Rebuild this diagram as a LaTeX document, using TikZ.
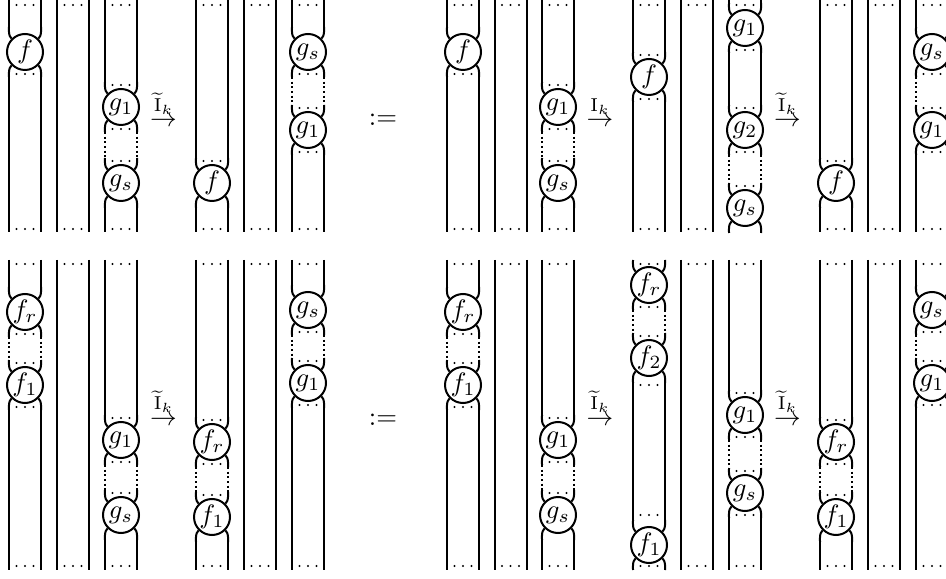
\documentclass[tikz,border=0pt]{standalone}
\usepackage{amsmath}
\tikzset{
  strand/.style={line width=0.75pt},
  dotseg/.style={line width=0.75pt, densely dotted},
  bead/.style={circle, draw, line width=0.75pt, fill=white, minimum size=13.5pt, inner sep=0pt},
}
% bead: name, x, y (px, downward), label
\newcommand\sdBead[4]{%
  \node[bead] (#1) at (#2,-#3) {$#4$};
  \coordinate (#1-ul) at ({#2-16},{25-#3});
  \coordinate (#1-ur) at ({#2+16},{25-#3});
  \coordinate (#1-ll) at ({#2-16},{-25-#3});
  \coordinate (#1-lr) at ({#2+16},{-25-#3});
  \draw[strand] (#1-ul) to[out=-90,in=135] (#1.135);
  \draw[strand] (#1-ur) to[out=-90,in=45] (#1.45);
  \draw[strand] (#1-ll) to[out=90,in=-135] (#1.-135);
  \draw[strand] (#1-lr) to[out=90,in=-45] (#1.-45);
}
\newcommand\sdTop[3]{\coordinate (#1-ll) at ({#2-16},{-#3}); \coordinate (#1-lr) at ({#2+16},{-#3});}
\newcommand\sdBot[3]{\coordinate (#1-ul) at ({#2-16},{-#3}); \coordinate (#1-ur) at ({#2+16},{-#3});}
\newcommand\sdSeg[2]{\draw[strand] (#1-ll) -- (#2-ul) (#1-lr) -- (#2-ur);}
\newcommand\sdDSeg[2]{\draw[dotseg] (#1-ll) -- (#2-ul) (#1-lr) -- (#2-ur);}
\newcommand\sdDots[2]{\fill ({#1-8.5},{-#2}) circle (0.42pt) (#1,{-#2}) circle (0.42pt) ({#1+8.5},{-#2}) circle (0.42pt);}
\newcommand\sdPlain[4]{\sdTop{#1t}{#2}{#3}\sdBot{#1b}{#2}{#4}\sdSeg{#1t}{#1b}}
% row 1, type A
\newcommand\sdRowOneA[4]{%
  \sdTop{#1t1}{#2}{0}\sdBead{#1f}{#2}{52}{f}\sdBot{#1b1}{#2}{232}
  \sdSeg{#1t1}{#1f}\sdSeg{#1f}{#1b1}
  \sdDots{#2}{5}\sdDots{#2}{74}\sdDots{#2}{229}
  \sdPlain{#1p}{#3}{0}{232}\sdDots{#3}{5}\sdDots{#3}{229}
  \sdTop{#1t3}{#4}{0}\sdBead{#1ga}{#4}{107}{g_1}\sdBead{#1gb}{#4}{183}{g_s}\sdBot{#1b3}{#4}{232}
  \sdSeg{#1t3}{#1ga}\sdDSeg{#1ga}{#1gb}\sdSeg{#1gb}{#1b3}
  \sdDots{#4}{5}\sdDots{#4}{85}\sdDots{#4}{129}\sdDots{#4}{161}\sdDots{#4}{229}
}
% row 1, type B
\newcommand\sdRowOneB[4]{%
  \sdTop{#1t1}{#2}{0}\sdBead{#1f}{#2}{183}{f}\sdBot{#1b1}{#2}{232}
  \sdSeg{#1t1}{#1f}\sdSeg{#1f}{#1b1}
  \sdDots{#2}{5}\sdDots{#2}{161}\sdDots{#2}{229}
  \sdPlain{#1p}{#3}{0}{232}\sdDots{#3}{5}\sdDots{#3}{229}
  \sdTop{#1t3}{#4}{0}\sdBead{#1gb}{#4}{52}{g_s}\sdBead{#1ga}{#4}{130}{g_1}\sdBot{#1b3}{#4}{232}
  \sdSeg{#1t3}{#1gb}\sdDSeg{#1gb}{#1ga}\sdSeg{#1ga}{#1b3}
  \sdDots{#4}{5}\sdDots{#4}{74}\sdDots{#4}{108}\sdDots{#4}{152}\sdDots{#4}{229}
}
% row 2, type A
\newcommand\sdRowTwoA[4]{%
  \sdTop{#1t1}{#2}{260}\sdBead{#1fr}{#2}{312}{f_r}\sdBead{#1fa}{#2}{385}{f_1}\sdBot{#1b1}{#2}{570}
  \sdSeg{#1t1}{#1fr}\sdDSeg{#1fr}{#1fa}\sdSeg{#1fa}{#1b1}
  \sdDots{#2}{264}\sdDots{#2}{334}\sdDots{#2}{363}\sdDots{#2}{407}\sdDots{#2}{566}
  \sdPlain{#1p}{#3}{260}{570}\sdDots{#3}{264}\sdDots{#3}{566}
  \sdTop{#1t3}{#4}{260}\sdBead{#1ga}{#4}{440}{g_1}\sdBead{#1gb}{#4}{515}{g_s}\sdBot{#1b3}{#4}{570}
  \sdSeg{#1t3}{#1ga}\sdDSeg{#1ga}{#1gb}\sdSeg{#1gb}{#1b3}
  \sdDots{#4}{264}\sdDots{#4}{418}\sdDots{#4}{462}\sdDots{#4}{493}\sdDots{#4}{566}
}
% row 2, type B
\newcommand\sdRowTwoB[4]{%
  \sdTop{#1t1}{#2}{260}\sdBead{#1fr}{#2}{442}{f_r}\sdBead{#1fa}{#2}{517}{f_1}\sdBot{#1b1}{#2}{570}
  \sdSeg{#1t1}{#1fr}\sdDSeg{#1fr}{#1fa}\sdSeg{#1fa}{#1b1}
  \sdDots{#2}{264}\sdDots{#2}{420}\sdDots{#2}{464}\sdDots{#2}{495}\sdDots{#2}{566}
  \sdPlain{#1p}{#3}{260}{570}\sdDots{#3}{264}\sdDots{#3}{566}
  \sdTop{#1t3}{#4}{260}\sdBead{#1gb}{#4}{310}{g_s}\sdBead{#1ga}{#4}{383}{g_1}\sdBot{#1b3}{#4}{570}
  \sdSeg{#1t3}{#1gb}\sdDSeg{#1gb}{#1ga}\sdSeg{#1ga}{#1b3}
  \sdDots{#4}{264}\sdDots{#4}{332}\sdDots{#4}{361}\sdDots{#4}{405}\sdDots{#4}{566}
}
\begin{document}
\begin{tikzpicture}[x=0.375pt,y=0.375pt]
\useasboundingbox (0,0) rectangle (946,-579);
\clip (0,0) rectangle (946,-579);

% ---------- row 1 ----------
\sdRowOneA{ra}{25}{73}{121}
\sdRowOneB{rb}{212}{260}{308}
\sdRowOneA{rc}{463}{510.5}{558}
% diagram D, row 1
\sdTop{rdt1}{649}{0}\sdBead{rdf}{649}{77}{f}\sdBot{rdb1}{649}{232}
\sdSeg{rdt1}{rdf}\sdSeg{rdf}{rdb1}
\sdDots{649}{5}\sdDots{649}{55}\sdDots{649}{99}\sdDots{649}{229}
\sdPlain{rdp}{697}{0}{232}\sdDots{697}{5}\sdDots{697}{229}
\sdTop{rdt3}{745}{0}\sdBead{rdga}{745}{28}{g_1}\sdBead{rdgb}{745}{130}{g_2}\sdBead{rdgc}{745}{208}{g_s}
\sdSeg{rdt3}{rdga}\sdSeg{rdga}{rdgb}\sdDSeg{rdgb}{rdgc}
\sdDots{745}{5}\sdDots{745}{50}\sdDots{745}{108}\sdDots{745}{152}\sdDots{745}{186}
\sdRowOneB{re}{836}{884}{932}

\node[anchor=base] (arr1) at (163.5,-127) {$\stackrel{\widetilde{\mathrm{I}}_k}{\rightarrow}$};
\node (def1) at (383,-120) {$:=$};
\node[anchor=base] (arr2) at (600,-127) {$\stackrel{\mathrm{I}_k}{\rightarrow}$};
\node[anchor=base] (arr3) at (787.5,-127) {$\stackrel{\widetilde{\mathrm{I}}_k}{\rightarrow}$};

% ---------- row 2 ----------
\sdRowTwoA{sa}{25}{73}{121}
\sdRowTwoB{sb}{212}{260}{308}
\sdRowTwoA{sc}{463}{510.5}{558}
% diagram D, row 2
\sdTop{sdt1}{649}{260}\sdBead{sdfr}{649}{285}{f_r}\sdBead{sdfb}{649}{358}{f_2}\sdBead{sdfa}{649}{545}{f_1}
\sdDSeg{sdfr}{sdfb}\sdSeg{sdfb}{sdfa}
\sdDots{649}{264}\sdDots{649}{307}\sdDots{649}{336}\sdDots{649}{385}\sdDots{649}{515}\sdDots{649}{566}
\sdPlain{sdp}{697}{260}{570}\sdDots{697}{264}\sdDots{697}{566}
\sdTop{sdt3}{745}{260}\sdBead{sdga}{745}{415}{g_1}\sdBead{sdgb}{745}{493}{g_s}\sdBot{sdb3}{745}{570}
\sdSeg{sdt3}{sdga}\sdDSeg{sdga}{sdgb}\sdSeg{sdgb}{sdb3}
\sdDots{745}{264}\sdDots{745}{393}\sdDots{745}{437}\sdDots{745}{471}\sdDots{745}{515}\sdDots{745}{566}
\sdRowTwoB{se}{836}{884}{932}

\node[anchor=base] (arr4) at (163.5,-425) {$\stackrel{\widetilde{\mathrm{I}}_k}{\rightarrow}$};
\node (def2) at (383,-420) {$:=$};
\node[anchor=base] (arr5) at (600,-425) {$\stackrel{\widetilde{\mathrm{I}}_k}{\rightarrow}$};
\node[anchor=base] (arr6) at (787.5,-425) {$\stackrel{\widetilde{\mathrm{I}}_k}{\rightarrow}$};
\end{tikzpicture}
\end{document}
